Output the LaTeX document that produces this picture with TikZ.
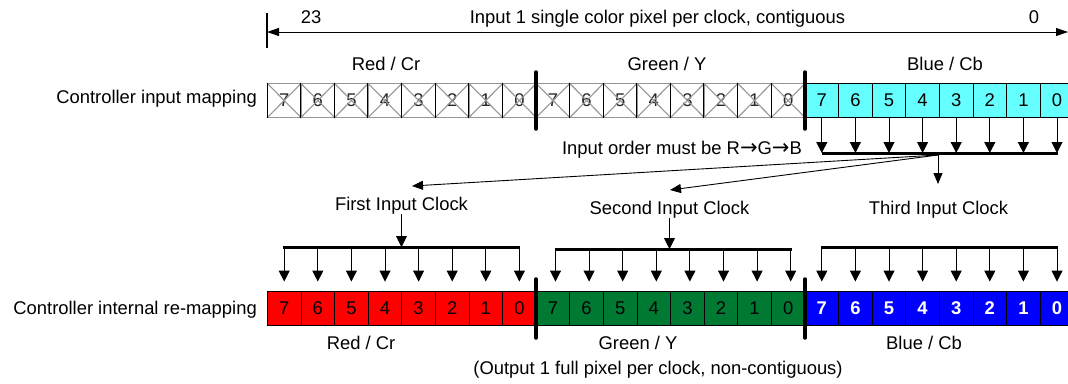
\documentclass[tikz,border=0pt]{standalone}
\usepackage{fontspec}
\setmainfont{Liberation Sans}
\newfontfamily\dejavu{DejaVu Sans}
\usetikzlibrary{arrows.meta}
\definecolor{cyanc}{RGB}{102,255,255}
\definecolor{redc}{RGB}{255,0,0}
\definecolor{greenc}{RGB}{0,122,51}
\definecolor{bluec}{RGB}{0,0,255}
\definecolor{xgray}{RGB}{150,150,150}
\tikzset{
  lbl/.style={font=\fontsize{18.4}{22}\selectfont, inner sep=0pt, anchor=base},
  cellbox/.style={minimum width=33.6pt, minimum height=34pt, inner sep=0pt, font=\fontsize{18.4}{22}\selectfont, line width=0.9pt},
  xcell/.style={cellbox, fill=white, draw=xgray, text=black!85},
  ccell/.style={cellbox, fill=cyanc, draw=black},
  rcell/.style={cellbox, fill=redc, draw=black},
  gcell/.style={cellbox, fill=greenc, draw=black},
  bcell/.style={cellbox, fill=bluec, draw=black, text=white, font=\fontsize{18.4}{22}\selectfont\bfseries},
  xline/.style={draw=xgray, line width=1.1pt},
  vline/.style={draw=black, line width=0.9pt},
  dnarrow/.style={-{Triangle[length=11pt,width=11pt]}, line width=0.9pt},
  hubarrow/.style={-{Triangle[length=11pt,width=9pt]}, line width=0.9pt},
  busline/.style={line width=3pt},
  sepline/.style={line width=3.5pt, line cap=round},
}
\newcommand{\rarr}{{\dejavu\fontsize{21}{22}\selectfont →}}
\begin{document}
\begin{tikzpicture}[x=1pt,y=-1pt]
\useasboundingbox (0,0) rectangle (1068,383);

% top dimension arrow
\coordinate (tl) at (267,32);
\coordinate (tr) at (1068,32);
\coordinate (tk1) at (267,13);
\coordinate (tk2) at (267,48);
\draw[line width=1.5pt] (tk1) -- (tk2);
\draw[{Triangle[length=12pt,width=8pt]}-{Triangle[length=12pt,width=8pt]}, line width=0.9pt] (tl) -- (tr);
\node[lbl] (n23) at (311,23) {23};
\node[lbl] (ttl) at (657.5,23) {Input 1 single color pixel per clock, contiguous};
\node[lbl] (n0) at (1034,23) {0};

% top labels
\node[lbl] (tred) at (386,70) {Red / Cr};
\node[lbl] (tgreen) at (667,70) {Green / Y};
\node[lbl] (tblue) at (945,70) {Blue / Cb};
\node[lbl, anchor=base east] (cim) at (257,103) {Controller input mapping};

% top row cells
\foreach \i in {1,...,16}{
  \pgfmathsetmacro\cx{250.6+33.6*\i}
  \pgfmathtruncatemacro\d{mod(24-\i,8)}
  \node[xcell] (t\i) at (\cx,100.5) {\d};
  \draw[xline] (t\i.north west) -- (t\i.south east) (t\i.north east) -- (t\i.south west);
  \draw[vline] (t\i.north west) -- (t\i.south west) (t\i.north east) -- (t\i.south east);
}
\foreach \i in {17,...,24}{
  \pgfmathsetmacro\cx{250.6+33.6*\i}
  \pgfmathtruncatemacro\d{mod(24-\i,8)}
  \node[ccell] (t\i) at (\cx,100.5) {\d};
}

% top separators
\coordinate (s1a) at (536,72); \coordinate (s1b) at (536,129);
\coordinate (s2a) at (805,72); \coordinate (s2b) at (805,129);
\draw[sepline] (s1a) -- (s1b);
\draw[sepline] (s2a) -- (s2b);

% blue gathering bus
\coordinate (busT) at (0,153);
\draw[busline] (t17.south |- busT) -- ([xshift=1pt]t24.south |- busT);
\foreach \i in {17,...,24}{
  \draw[dnarrow] (t\i.south) -- (t\i.south |- busT);
}
\node[lbl, anchor=base east] (order) at (802,154) {Input order must be R\rarr G\rarr B};

% hub arrows
\coordinate (hub) at (938,155);
\coordinate (h1) at (412,186);
\coordinate (h2) at (670,190);
\coordinate (h3) at (938,184);
\draw[hubarrow] (hub) -- (h1);
\draw[hubarrow] (hub) -- (h2);
\draw[hubarrow] (hub) -- (h3);

% clock labels
\node[lbl] (c1) at (401.5,210) {First Input Clock};
\node[lbl] (c2) at (669.5,214) {Second Input Clock};
\node[lbl] (c3) at (938.5,214) {Third Input Clock};

% bottom row cells
\foreach \i in {1,...,8}{
  \pgfmathsetmacro\cx{250.6+33.6*\i}
  \pgfmathtruncatemacro\d{mod(24-\i,8)}
  \node[rcell] (b\i) at (\cx,308) {\d};
}
\foreach \i in {9,...,16}{
  \pgfmathsetmacro\cx{250.6+33.6*\i}
  \pgfmathtruncatemacro\d{mod(24-\i,8)}
  \node[gcell] (b\i) at (\cx,308) {\d};
}
\foreach \i in {17,...,24}{
  \pgfmathsetmacro\cx{250.6+33.6*\i}
  \pgfmathtruncatemacro\d{mod(24-\i,8)}
  \node[bcell] (b\i) at (\cx,308) {\d};
}
\node[lbl, anchor=base east] (cir) at (257,314) {Controller internal re-mapping};

% distribution buses
\coordinate (bus1) at (0,247);
\coordinate (bus2) at (0,249);
\coordinate (bus3) at (0,247);
\draw[busline] ([xshift=-1pt]b1.north |- bus1) -- ([xshift=1pt]b8.north |- bus1);
\draw[busline] ([xshift=2pt]b9.north |- bus2) -- ([xshift=4pt]b16.north |- bus2);
\draw[busline] ([xshift=-1pt]b17.north |- bus3) -- ([xshift=1pt]b24.north |- bus3);
\foreach \i in {1,...,8}{
  \draw[dnarrow, shorten >=9pt] (b\i.north |- bus1) -- (b\i.north);
}
\foreach \i in {9,...,16}{
  \draw[dnarrow, shorten >=9pt] ([xshift=2.5pt]b\i.north |- bus2) -- ([xshift=2.5pt]b\i.north);
}
\foreach \i in {17,...,24}{
  \draw[dnarrow, shorten >=9pt] (b\i.north |- bus3) -- (b\i.north);
}
\draw[dnarrow] (c1.south) -- (c1.south |- bus1);
\draw[dnarrow] (c2.south) -- (c2.south |- bus2);

% bottom separators
\coordinate (s3a) at (536,279); \coordinate (s3b) at (536,338);
\coordinate (s4a) at (805,279); \coordinate (s4b) at (805,338);
\draw[sepline] (s3a) -- (s3b);
\draw[sepline] (s4a) -- (s4b);

% bottom labels
\node[lbl] (bred) at (361,349) {Red / Cr};
\node[lbl] (bgreen) at (638,349) {Green / Y};
\node[lbl] (bblue) at (924,349) {Blue / Cb};
\node[lbl] (outp) at (658,374) {(Output 1 full pixel per clock, non-contiguous)};
\end{tikzpicture}
\end{document}
